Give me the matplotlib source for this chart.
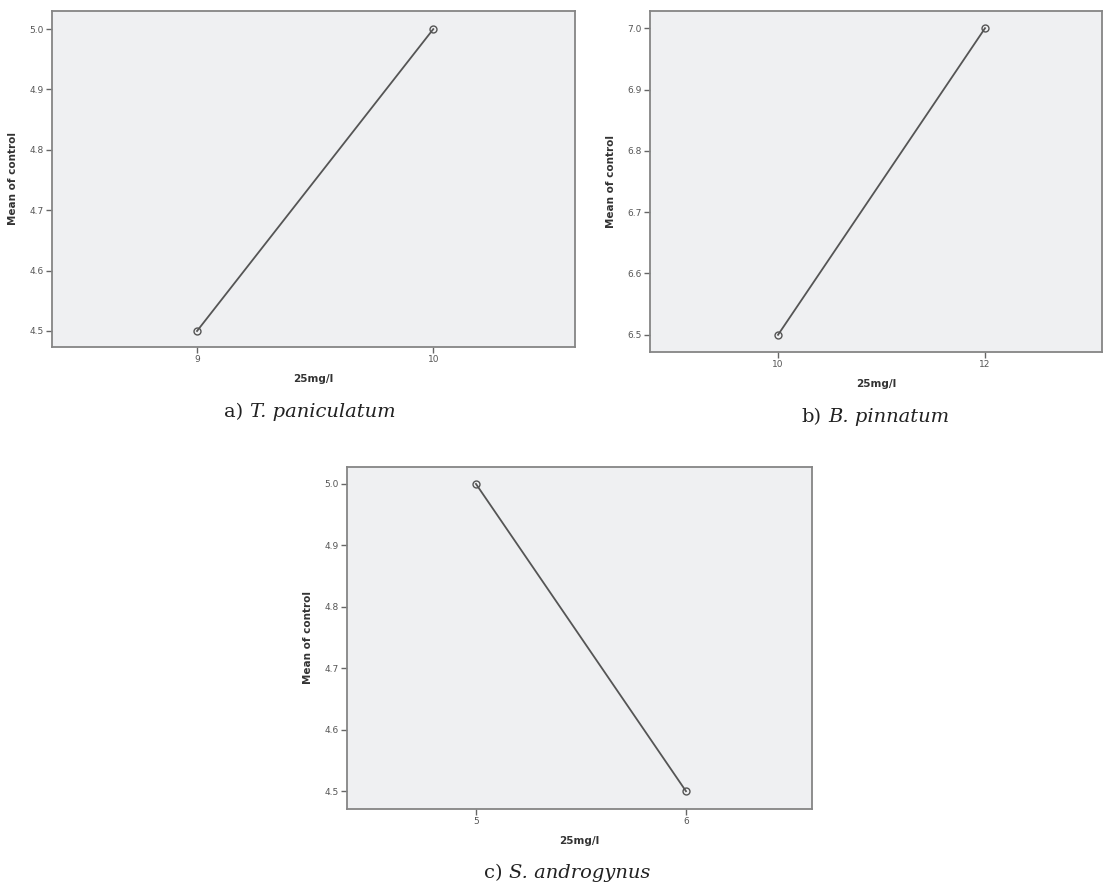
import matplotlib
matplotlib.use('Agg')
import matplotlib.pyplot as plt
from matplotlib.ticker import FormatStrFormatter
from matplotlib.offsetbox import TextArea, HPacker, AnnotationBbox

# data
x_a = [9, 10]
y_a = [4.5, 5.0]
x_b = [10, 12]
y_b = [6.5, 7.0]
x_c = [5, 6]
y_c = [5.0, 4.5]

captions = ['a)', 'b)', 'c)']
species = ['T. paniculatum', 'B. pinnatum', 'S. androgynus']
yticks_a = [4.5, 4.6, 4.7, 4.8, 4.9, 5.0]
yticks_b = [6.5, 6.6, 6.7, 6.8, 6.9, 7.0]
yticks_c = [4.5, 4.6, 4.7, 4.8, 4.9, 5.0]

W, H = 1103, 888
fig = plt.figure(figsize=(W / 100, H / 100), dpi=100)

def px_axes(l, t, r, b):
    return fig.add_axes([l / W, 1 - b / H, (r - l) / W, (b - t) / H])

def spss_plot(ax, x, y, yt, xlim, ylim):
    ax.set_facecolor('#eff0f2')
    ax.plot(x, y, color='#555555', lw=1.3, marker='o', ms=5,
            mfc='none', mec='#555555', mew=1.0)
    ax.set_xticks(x)
    ax.set_yticks(yt)
    ax.yaxis.set_major_formatter(FormatStrFormatter('%.1f'))
    ax.set_xlim(xlim)
    ax.set_ylim(ylim)
    for s in ax.spines.values():
        s.set_color('#858585')
        s.set_linewidth(1.3)
    ax.tick_params(length=4, width=1, color='#666666', labelsize=6.5,
                   labelcolor='#555555', pad=2)
    ax.set_xlabel('25mg/l', fontsize=7.5, fontweight='bold', color='#333333', labelpad=7)
    ax.set_ylabel('Mean of control', fontsize=7.5, fontweight='bold', color='#333333', labelpad=8)

ax1 = px_axes(52, 11, 575, 347)
spss_plot(ax1, x_a, y_a, yticks_a, (8.386, 10.60), (4.4735, 5.030))

ax2 = px_axes(650, 11, 1102, 352)
spss_plot(ax2, x_b, y_b, yticks_b, (8.763, 13.13), (6.472, 7.028))

ax3 = px_axes(347, 467, 812, 809)
spss_plot(ax3, x_c, y_c, yticks_c, (4.386, 6.60), (4.471, 5.0275))

# captions under each panel: label upright, species name in italics
cap_pos = [(310, 412), (875, 417), (567, 873)]
for (cx, cy), pre, sp in zip(cap_pos, captions, species):
    t1 = TextArea(pre, textprops=dict(fontsize=14, family='DejaVu Serif', color='#222222'))
    t2 = TextArea(sp, textprops=dict(fontsize=14, family='DejaVu Serif', style='italic', color='#222222'))
    box = HPacker(children=[t1, t2], align='baseline', pad=0, sep=5)
    ab = AnnotationBbox(box, (cx / W, 1 - cy / H), xycoords='figure fraction',
                        box_alignment=(0.5, 0.5), frameon=False)
    fig.add_artist(ab)

fig.savefig('out.png', dpi=100)
